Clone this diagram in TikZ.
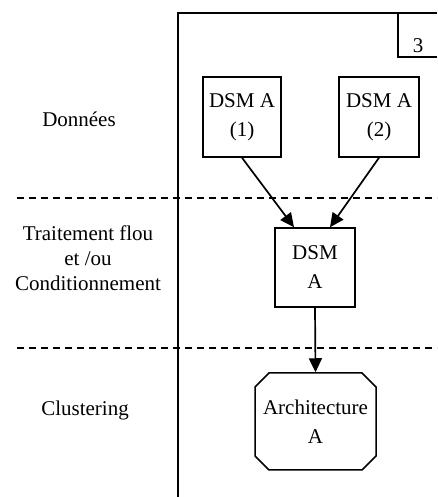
\documentclass[tikz,border=0pt]{standalone}
\usepackage{fontspec}
\setmainfont{Liberation Serif}
\usetikzlibrary{arrows.meta,shapes.misc}

\tikzset{
  box/.style={draw, align=center, inner sep=0pt, font=\fontsize{21}{29}\selectfont},
  phase/.style={align=center, font=\fontsize{21}{25}\selectfont},
  sep/.style={dash pattern=on 7pt off 5pt}
}

\begin{document}
\begin{tikzpicture}[x=1pt, y=1pt, >={Triangle[length=14pt, width=13pt]}, line width=1.5pt]
  \useasboundingbox (0,0) rectangle (437,497);
  % Frame
  \draw (178,0) -- (178,484) -- (437,484);
  \draw (398,484) -- (398,440) -- (437,440);
  \node[font=\fontsize{21}{25}\selectfont] (num) at (418,451) {3};
  % Separators
  \draw[sep] (17,299) -- (437,299);
  \draw[sep] (17,149) -- (437,149);
  % Phases
  \node[phase, anchor=base] (donnees) at (79,370) {Données};
  \node[phase] (traitement) at (88,239) {Traitement flou\\et /ou\\Conditionnement};
  \node[phase, anchor=base] (clustering) at (85,81) {Clustering};
  % Boxes
  \node[box, minimum width=78pt, minimum height=80pt] (dsmA1) at (242,380) {DSM A\\(1)};
  \node[box, minimum width=80pt, minimum height=80pt] (dsmA2) at (379,380) {DSM A\\(2)};
  \node[box, minimum width=80pt, minimum height=79pt] (dsmA) at (315,229.5) {DSM\\A};
  \node[box, chamfered rectangle, chamfered rectangle xsep=7pt, chamfered rectangle ysep=7pt,
    minimum width=121pt, minimum height=97pt] (archA) at (315.5,75.5) {Architecture\\A};
  % Arrows
  \draw[->, line width=1.7pt] (dsmA1.south) -- ([xshift=-21pt]dsmA.north);
  \draw[->, line width=1.7pt] (dsmA2.south) -- ([xshift=15pt]dsmA.north);
  \draw[->, line width=1.7pt] (dsmA.south) -- (archA.north);
\end{tikzpicture}
\end{document}
